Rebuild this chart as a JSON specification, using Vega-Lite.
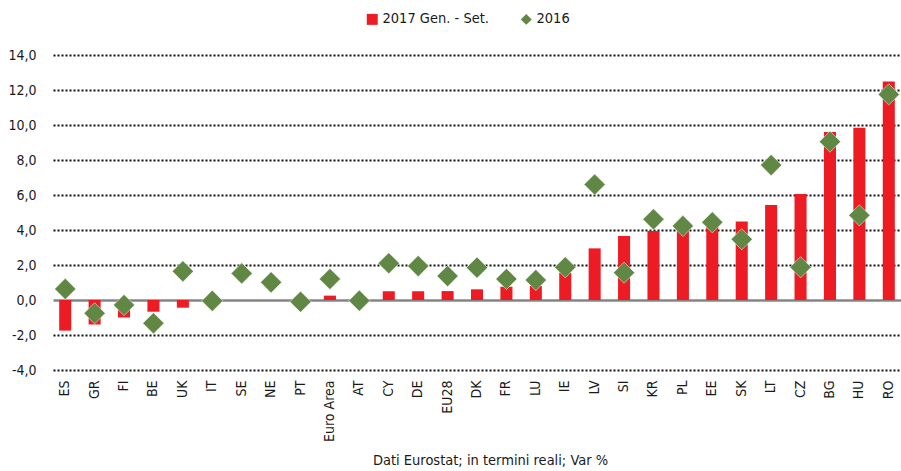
{
  "$schema": "https://vega.github.io/schema/vega-lite/v6.json",
  "autosize": {"type": "none"},
  "width": 848,
  "height": 315,
  "padding": {"left": 53, "top": 55, "right": 0, "bottom": 101},
  "background": "white",
  "config": {
    "view": {"stroke": null},
    "font": "DejaVu Sans Condensed, sans-serif",
    "axis": {"labelFont": "DejaVu Sans Condensed, sans-serif", "titleFont": "DejaVu Sans Condensed, sans-serif"},
    "legend": {"labelFont": "DejaVu Sans Condensed, sans-serif"}
  },
  "data": {
    "values": [
      {"c": "ES", "s": "2017 Gen. - Set.", "v": -1.75}, {"c": "ES", "s": "2016", "v": 0.63},
      {"c": "GR", "s": "2017 Gen. - Set.", "v": -1.4}, {"c": "GR", "s": "2016", "v": -0.76},
      {"c": "FI", "s": "2017 Gen. - Set.", "v": -1.0}, {"c": "FI", "s": "2016", "v": -0.29},
      {"c": "BE", "s": "2017 Gen. - Set.", "v": -0.67}, {"c": "BE", "s": "2016", "v": -1.33},
      {"c": "UK", "s": "2017 Gen. - Set.", "v": -0.44}, {"c": "UK", "s": "2016", "v": 1.64},
      {"c": "IT", "s": "2017 Gen. - Set.", "v": 0}, {"c": "IT", "s": "2016", "v": -0.05},
      {"c": "SE", "s": "2017 Gen. - Set.", "v": 0}, {"c": "SE", "s": "2016", "v": 1.52},
      {"c": "NE", "s": "2017 Gen. - Set.", "v": 0}, {"c": "NE", "s": "2016", "v": 1.01},
      {"c": "PT", "s": "2017 Gen. - Set.", "v": 0}, {"c": "PT", "s": "2016", "v": -0.1},
      {"c": "Euro Area", "s": "2017 Gen. - Set.", "v": 0.25}, {"c": "Euro Area", "s": "2016", "v": 1.2},
      {"c": "AT", "s": "2017 Gen. - Set.", "v": 0.05}, {"c": "AT", "s": "2016", "v": -0.04},
      {"c": "CY", "s": "2017 Gen. - Set.", "v": 0.5}, {"c": "CY", "s": "2016", "v": 2.1},
      {"c": "DE", "s": "2017 Gen. - Set.", "v": 0.5}, {"c": "DE", "s": "2016", "v": 1.94},
      {"c": "EU28", "s": "2017 Gen. - Set.", "v": 0.51}, {"c": "EU28", "s": "2016", "v": 1.37},
      {"c": "DK", "s": "2017 Gen. - Set.", "v": 0.61}, {"c": "DK", "s": "2016", "v": 1.85},
      {"c": "FR", "s": "2017 Gen. - Set.", "v": 0.76}, {"c": "FR", "s": "2016", "v": 1.2},
      {"c": "LU", "s": "2017 Gen. - Set.", "v": 0.8}, {"c": "LU", "s": "2016", "v": 1.14},
      {"c": "IE", "s": "2017 Gen. - Set.", "v": 1.55}, {"c": "IE", "s": "2016", "v": 1.87},
      {"c": "LV", "s": "2017 Gen. - Set.", "v": 2.95}, {"c": "LV", "s": "2016", "v": 6.6},
      {"c": "SI", "s": "2017 Gen. - Set.", "v": 3.66}, {"c": "SI", "s": "2016", "v": 1.56},
      {"c": "KR", "s": "2017 Gen. - Set.", "v": 3.94}, {"c": "KR", "s": "2016", "v": 4.61},
      {"c": "PL", "s": "2017 Gen. - Set.", "v": 4.1}, {"c": "PL", "s": "2016", "v": 4.23},
      {"c": "EE", "s": "2017 Gen. - Set.", "v": 4.2}, {"c": "EE", "s": "2016", "v": 4.44},
      {"c": "SK", "s": "2017 Gen. - Set.", "v": 4.48}, {"c": "SK", "s": "2016", "v": 3.47},
      {"c": "LT", "s": "2017 Gen. - Set.", "v": 5.43}, {"c": "LT", "s": "2016", "v": 7.71},
      {"c": "CZ", "s": "2017 Gen. - Set.", "v": 6.06}, {"c": "CZ", "s": "2016", "v": 1.87},
      {"c": "BG", "s": "2017 Gen. - Set.", "v": 9.6}, {"c": "BG", "s": "2016", "v": 9.05},
      {"c": "HU", "s": "2017 Gen. - Set.", "v": 9.85}, {"c": "HU", "s": "2016", "v": 4.84},
      {"c": "RO", "s": "2017 Gen. - Set.", "v": 12.48}, {"c": "RO", "s": "2016", "v": 11.75}
    ]
  },
  "encoding": {
    "x": {
      "field": "c", "type": "nominal", "sort": null,
      "scale": {"paddingInner": 0.59, "paddingOuter": 0.21},
      "axis": {
        "title": "Dati Eurostat; in termini reali; Var %",
        "titleFontSize": 14.5, "titleFontWeight": "normal", "titleColor": "#1a1a1a",
        "titleX": 437, "titleY": 83, "titleBaseline": "top",
        "labelAngle": -90, "labelFontSize": 14, "labelColor": "#1a1a1a",
        "labelPadding": 10, "domain": false, "ticks": false, "grid": false
      }
    },
    "y": {
      "field": "v", "type": "quantitative",
      "scale": {"domain": [-4, 14], "nice": false, "zero": false},
      "axis": {
        "title": null,
        "values": [-4, -2, 0, 2, 4, 6, 8, 10, 12, 14],
        "labelExpr": "replace(replace(format(datum.value, '.1f'), '.', ','), '−', '-')",
        "labelFontSize": 14, "labelColor": "#1a1a1a", "labelPadding": 17,
        "domain": false, "ticks": false,
        "grid": true,
        "gridColor": {"condition": {"test": "datum.value === 0", "value": "#858585"}, "value": "#111111"},
        "gridDash": {"condition": {"test": "datum.value === 0", "value": []}, "value": [2, 2]},
        "gridWidth": {"condition": {"test": "datum.value === 0", "value": 2.5}, "value": 2}
      }
    },
    "color": {
      "field": "s", "type": "nominal",
      "scale": {"domain": ["2017 Gen. - Set.", "2016"], "range": ["#ED1C24", "#618745"]},
      "legend": {
        "title": null, "orient": "none", "direction": "horizontal",
        "legendX": 312, "legendY": -43,
        "labelFontSize": 14.5, "labelColor": "#1a1a1a", "labelOffset": 3,
        "symbolSize": 120, "columnPadding": 30, "symbolOpacity": 1, "symbolStrokeWidth": 0
      }
    }
  },
  "layer": [
    {
      "transform": [{"filter": "datum.s === '2017 Gen. - Set.'"}],
      "mark": {"type": "bar"}
    },
    {
      "transform": [{"filter": "datum.s === '2016'"}],
      "mark": {"type": "point", "filled": true, "size": 450, "opacity": 1, "stroke": "#ffffff", "strokeWidth": 0.5},
      "encoding": {
        "shape": {
          "field": "s", "type": "nominal",
          "scale": {"domain": ["2017 Gen. - Set.", "2016"], "range": ["square", "diamond"]},
          "legend": {
            "title": null, "orient": "none", "direction": "horizontal",
            "legendX": 312, "legendY": -43,
            "labelFontSize": 14.5, "labelColor": "#1a1a1a", "labelOffset": 3,
            "symbolSize": 120, "columnPadding": 30, "symbolOpacity": 1, "symbolStrokeWidth": 0
          }
        }
      }
    }
  ]
}
